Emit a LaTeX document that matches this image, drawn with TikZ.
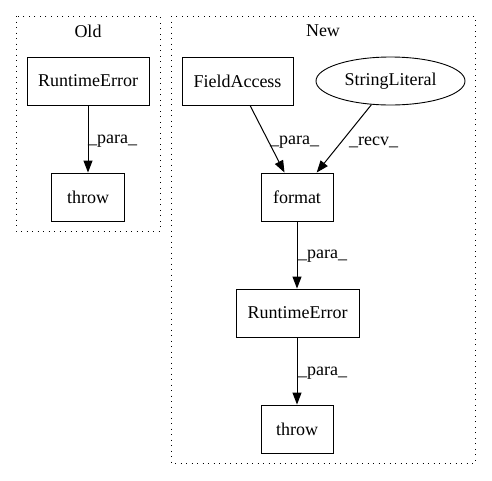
\documentclass[tikz,border=0pt]{standalone}
\usepackage{fontspec}
\setmainfont{Liberation Serif}
\usetikzlibrary{arrows.meta,shapes.geometric}
\begin{document}
\begin{tikzpicture}[x=1pt,y=-1pt,
  every node/.style={font=\fontsize{18}{21}\selectfont},
  box/.style={draw,line width=0.9pt,rectangle,minimum height=48pt,inner sep=0pt},
  oval/.style={draw,line width=0.9pt,ellipse,minimum height=48pt,minimum width=149pt,inner sep=0pt},
  cluster/.style={line width=1pt,dash pattern=on 1pt off 4.5pt},
  edge/.style={line width=1pt,-{Triangle[length=12pt,width=9pt]}},
  elabel/.style={anchor=west,inner sep=0pt}]
\useasboundingbox (0,0) rectangle (492,480);
% clusters
\draw[cluster] (16,16) rectangle (160,231);
\node (oldt) at (88,31) {Old};
\draw[cluster] (171,16) rectangle (475,463);
\node (newt) at (323,31) {New};
% old nodes
\node[box,minimum width=122pt] (ore) at (88,81) {RuntimeError};
\node[box,minimum width=73pt] (othrow) at (88,197) {throw};
\draw[edge] (ore) -- (othrow);
\node[elabel] (l1) at (88,141) {\_para\_};
% new nodes
\node[box,minimum width=111pt] (fa) at (237.5,81) {FieldAccess};
\node[oval] (sl) at (390.5,81) {StringLiteral};
\node[box,minimum width=72pt] (fmt) at (297,197) {format};
\node[box,minimum width=123pt] (nre) at (297.5,313) {RuntimeError};
\node[box,minimum width=72pt] (nthrow) at (297,429) {throw};
\draw[edge] (fa) -- (fmt);
\draw[edge] (sl) -- (fmt);
\draw[edge] (fmt) -- (fmt|-nre.north);
\draw[edge] (nthrow|-nre.south) -- (nthrow);
\node[elabel] (l2) at (270,142) {\_para\_};
\node[elabel] (l3) at (349,142) {\_recv\_};
\node[elabel] (l4) at (298,256) {\_para\_};
\node[elabel] (l5) at (298,373) {\_para\_};
\end{tikzpicture}
\end{document}
